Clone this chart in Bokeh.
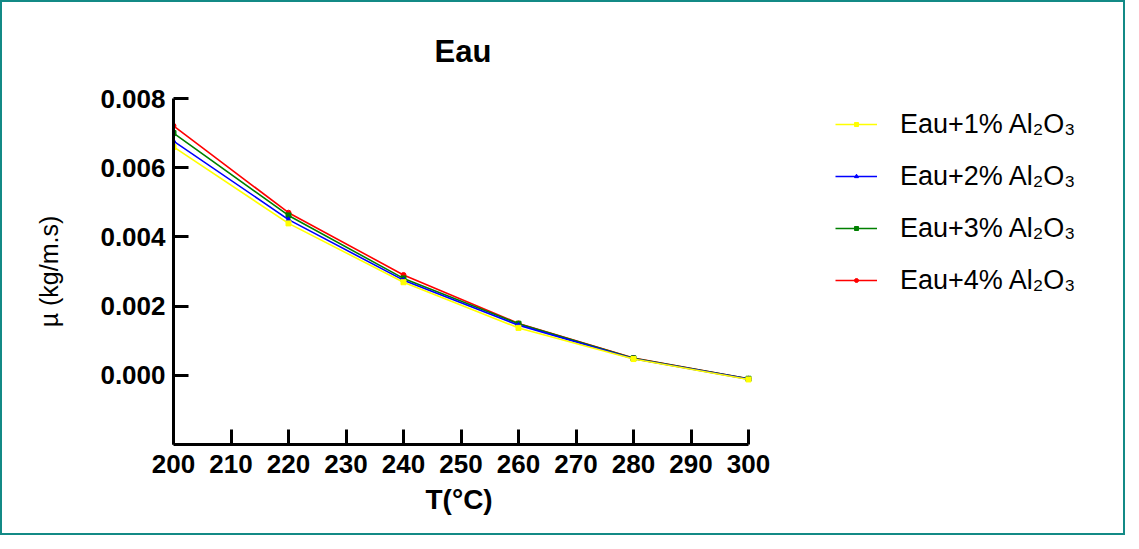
from bokeh.plotting import figure
from bokeh.models import Legend, FixedTicker, Range1d, CustomJSTickFormatter, Title
from bokeh.embed import file_html
from bokeh.resources import INLINE

# ---- data ----
T = [200, 220, 240, 260, 280, 300]
mu_1 = [0.00660, 0.00439, 0.00269, 0.00137, 0.00047, -0.00012]
mu_2 = [0.00677, 0.00450, 0.00275, 0.00145, 0.00048, -0.00011]
mu_3 = [0.00700, 0.00462, 0.00280, 0.00149, 0.00049, -0.00010]
mu_4 = [0.00721, 0.00470, 0.00290, 0.00150, 0.00050, -0.00010]
labels = ["Eau+1% Al\u2082O\u2083", "Eau+2% Al\u2082O\u2083",
          "Eau+3% Al\u2082O\u2083", "Eau+4% Al\u2082O\u2083"]
colors = ["#ffff00", "#0000ff", "#008000", "#ff0000"]
markers = ["square", "triangle", "square", "circle"]
x_ticks = [200, 210, 220, 230, 240, 250, 260, 270, 280, 290, 300]
y_ticks = [0.000, 0.002, 0.004, 0.006, 0.008]

FONT = "Liberation Sans"

W, H = 1125, 535
BL, BR, BT, BB = 171, 20, 96, 93
frame_w = W - BL - BR
x_end = 200 + 100 * frame_w / 575.0   # 575 px for the 200..300 span

p = figure(width=W, height=H, output_backend="svg", toolbar_location=None,
           x_range=Range1d(200, x_end), y_range=Range1d(-0.002, 0.008),
           min_border_left=BL, min_border_right=BR, min_border_top=BT,
           min_border_bottom=BB)
p.styles = {"border": "2px solid #138a86"}

p.grid.visible = False
p.outline_line_color = None

# title, left-aligned with an offset so that it sits over the 200..300 axis
p.title.text = "Eau"
p.title.align = "left"
p.title.offset = 261
p.title.text_font = FONT
p.title.text_font_size = "31px"
p.title.text_font_style = "bold"
p.title.text_color = "black"
p.title.standoff = 59

for ax in (p.xaxis[0], p.yaxis[0]):
    ax.axis_line_width = 3
    ax.major_tick_line_width = 3
    ax.major_tick_in = 15
    ax.major_tick_out = 0
    ax.minor_tick_line_color = None
    ax.major_label_text_font = FONT
    ax.major_label_text_font_size = "26px"
    ax.major_label_text_font_style = "bold"
    ax.major_label_text_color = "black"
    ax.axis_label_text_font = FONT
    ax.axis_label_text_color = "black"

p.xaxis.bounds = (200, 300)
p.xaxis.ticker = FixedTicker(ticks=x_ticks)
p.yaxis.ticker = FixedTicker(ticks=y_ticks)
p.yaxis.formatter = CustomJSTickFormatter(code="return tick.toFixed(3);")
p.xaxis.major_label_standoff = 10
p.yaxis.major_label_standoff = 8

p.yaxis.axis_label = "\u00b5 (kg/m.s)"
p.yaxis.axis_label_text_font_size = "25px"
p.yaxis.axis_label_text_font_style = "normal"
p.yaxis.axis_label_standoff = 34

# x-axis title placed below the axis, centred under 200..300
xlab = Title(text="T(°C)", align="left", offset=252, vertical_align="middle",
             text_font=FONT, text_font_size="28px", text_font_style="bold",
             text_color="black", standoff=14)
p.add_layout(xlab, "below")

series = [mu_1, mu_2, mu_3, mu_4]
renderers = {}
for i in [3, 2, 1, 0]:
    r1 = p.line(T, series[i], line_color=colors[i], line_width=1.6)
    r2 = p.scatter(T, series[i], marker=markers[i], size=5,
                   fill_color=colors[i], line_color=colors[i])
    renderers[i] = [r1, r2]
items = [(labels[i], renderers[i]) for i in range(4)]

frame_h = H - BT - BB
leg_h = 4 * 31 + 3 * 21
legend = Legend(items=items, location=(662, frame_h - 10.5 - leg_h),
                border_line_color=None, background_fill_alpha=0,
                padding=0, margin=0,
                glyph_width=42, glyph_height=10, label_height=31,
                label_standoff=23, spacing=21,
                label_text_font=FONT, label_text_font_size="27px",
                label_text_color="black")
p.add_layout(legend, "center")

open("out.html", "w").write(file_html(p, INLINE))
